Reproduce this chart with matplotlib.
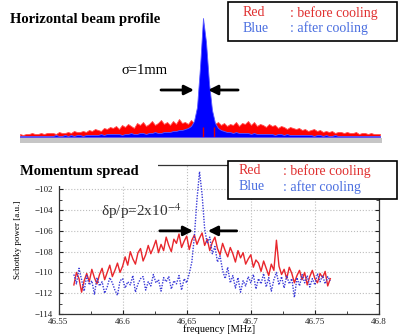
import numpy as np
import matplotlib
matplotlib.use("Agg")
import matplotlib.pyplot as plt
from matplotlib.patches import Rectangle

plt.rcParams['font.family'] = ['Liberation Serif', 'DejaVu Serif']
plt.rcParams['mathtext.fontset'] = 'stix'

W, H = 398, 334

# ---- top panel: horizontal beam profile (bins of 0.5 mm, peak at 0) ----
prof_pos = np.arange(-30.5, 30.0, 0.5)
prof_before = [3, 2, 3, 3, 4, 3, 3, 4, 3, 4, 4,
               4, 3, 5, 4, 4, 5, 4, 6, 5, 5,
               6, 5, 7, 6, 8, 7, 6, 9, 8, 10,
               9, 11, 8, 12, 10, 13, 11, 9, 14, 12,
               15, 11, 13, 16, 12, 14, 17, 13, 15, 12,
               16, 13, 18, 14, 15, 13, 17, 14, 16, 18,
               15, 17, 14, 16, 13, 15, 12, 14, 11, 13,
               12, 15, 11, 14, 13, 16, 12, 15, 11, 13,
               12, 10, 13, 11, 12, 9, 11, 10, 8, 10,
               9, 8, 9, 7, 8, 6, 7, 8, 6, 7,
               5, 6, 5, 6, 4, 5, 5, 4, 5, 4,
               4, 5, 3, 4, 4, 3, 4, 3, 3, 3]
prof_after = [1, 1, 1, 1, 1, 1, 1, 1, 1, 1, 1, 1, 2, 1, 1, 2, 1, 2, 1, 2,
              2, 1, 2, 2, 2, 2, 2, 3, 2, 3, 3,
              3, 3, 3, 2, 3, 3, 4, 3, 3, 4, 4, 3, 4, 4, 5, 4, 4, 5, 5, 5,
              6, 6, 7, 7, 8, 9, 11, 16,
              30, 70, 119, 95, 54, 27, 14, 9, 7, 6,
              5, 5, 4, 5, 4, 4, 4, 4, 3, 4, 3, 3,
              3, 3, 3, 3, 2, 3, 3, 2, 3, 2, 2, 2, 2, 2, 2, 2, 2, 1, 2, 2,
              1, 2, 1, 1, 2, 1, 1, 1, 1, 1, 1, 1, 1, 1, 1, 1, 1, 1, 1, 1]
red_marks_pos = [0.0, 1.8]
red_marks_h = [10, 10]

# ---- bottom panel: Schottky spectrum ----
freq = np.linspace(46.562, 46.762, 101)
power_before = [-111.2, -110.0, -110.6, -111.9, -110.8, -110.1, -110.9, -109.7, -110.5, -111.1,
                -110.2, -109.6, -110.7, -110.0, -109.3, -110.4, -109.8, -109.1, -110.0, -109.4,
                -108.5, -109.3, -108.0, -108.7, -109.2, -108.1, -107.7, -108.9, -108.3, -107.4,
                -108.2, -107.6, -106.9, -108.1, -107.3, -107.9, -106.6, -107.4, -108.0, -106.8,
                -107.2, -106.3, -107.6, -107.0, -106.5, -107.8, -106.9, -106.4, -107.3, -106.7,
                -106.2, -107.4, -106.8, -107.9, -107.1, -106.6, -107.7, -108.3, -107.2, -107.9,
                -108.5, -107.6, -108.2, -109.0, -107.9, -108.6, -108.1, -109.2, -108.7, -108.3,
                -109.5, -108.8, -109.1, -109.9, -108.9, -109.6, -110.3, -109.2, -109.8, -106.9,
                -109.4, -110.2, -109.7, -110.6, -109.5, -110.1, -111.0, -110.3, -109.8, -110.7,
                -110.0, -111.2, -110.4, -109.8, -110.6, -111.0, -110.1, -110.5, -109.9, -111.3,
                -110.6]
power_after = [-110.2, -111.1, -109.6, -110.7, -111.8, -110.3, -111.2, -110.8, -112.1, -110.5,
               -111.3, -110.9, -112.0, -111.4, -110.5, -111.0, -111.7, -112.2, -110.8, -110.6,
               -111.5, -110.9, -111.2, -110.3, -111.9, -111.1, -110.6, -110.4, -111.7, -110.9,
               -111.3, -110.2, -111.0, -110.7, -111.8, -110.5, -110.9, -110.4, -111.6, -110.8,
               -111.1, -110.3, -111.7, -110.6, -111.0, -110.1, -109.0, -106.5, -103.0, -100.3,
               -102.5, -105.8, -107.2, -106.6, -108.2, -107.5, -109.0, -108.4, -109.8, -110.6,
               -109.5, -111.0, -110.3, -111.5, -110.5, -111.9, -110.8, -111.3, -110.4, -111.0,
               -110.2, -111.6, -110.6, -111.1, -110.1, -111.4, -110.5, -111.8, -110.7, -110.0,
               -111.2, -110.4, -111.5, -110.3, -111.1, -110.6, -112.4, -110.5, -111.3, -110.2,
               -111.0, -110.3, -111.4, -110.6, -111.2, -110.1, -110.9, -110.3, -111.1, -110.4,
               -110.8]
xticks = [46.55, 46.6, 46.65, 46.7, 46.75, 46.8]
xticklabels = ['46.55', '46.6', '46.65', '46.7', '46.75', '46.8']
yticks = [-114, -112, -110, -108, -106, -104, -102]


def fx(px):
    return px / W


def fy(py):
    return 1 - py / H


def arrow(ax, tip, tail):
    ax.annotate('', xy=tip, xytext=tail, annotation_clip=False,
                arrowprops=dict(arrowstyle='-|>', color='k', lw=2, mutation_scale=14,
                                shrinkA=0, shrinkB=0))


fig = plt.figure(figsize=(W / 100, H / 100), dpi=100)

# top panel
ax1 = fig.add_axes([fx(18.5), fy(137), 363 / W, 122 / H])
ax1.fill_between(prof_pos, 0, prof_before, color='#ff0000', lw=0.6, edgecolor='#ff5050')
ax1.fill_between(prof_pos, 0, prof_after, color='#0000ff', lw=0.6, edgecolor='#5a5aff')
ax1.vlines(red_marks_pos, 0, red_marks_h, color='#e00000', lw=1)
ax1.set_xlim(-30.75, 29.75)
ax1.set_ylim(0, 122)
ax1.axis('off')
arrow(ax1, (-1.5, 47), (-7.0, 47))
arrow(ax1, (0.85, 47), (5.85, 47))
fig.patches.append(Rectangle((fx(20), fy(143)), 362 / W, 5 / H, transform=fig.transFigure,
                             facecolor='#c6c6c6', edgecolor='none'))
fig.text(fx(10), fy(20), 'Horizontal beam profile', fontsize=10.5, fontweight='bold',
         va='center', ha='left')
fig.text(fx(122), fy(71), 'σ=1mm', fontsize=10.5, va='center', ha='left')

# bottom panel
ax2 = fig.add_axes([fx(58.5), fy(314), 320.5 / W, 149 / H])
ax2.plot(freq, power_before, color='#e8262c', lw=1)
ax2.plot(freq, power_after, color='#3a3ad8', lw=1, ls=(0, (1, 1)))
ax2.set_xlim(46.55, 46.8)
ax2.set_ylim(-114, -99.66)
ax2.set_xticks(xticks)
ax2.set_xticklabels(xticklabels)
ax2.set_yticks(yticks)
ax2.set_yticks(np.arange(-113, -99, 2), minor=True)
ax2.set_xticks(np.arange(46.575, 46.8, 0.05), minor=True)
ax2.tick_params(which='both', direction='in', right=True, labelsize=6.5,
                colors='#222222')
ax2.tick_params(axis='x', pad=3)
ax2.tick_params(axis='y', pad=4)
ax2.tick_params(which='major', length=3)
ax2.tick_params(which='minor', length=2)
ax2.grid(True, which='major', ls=':', color='#bdbdbd', lw=0.8)
for s in ax2.spines.values():
    s.set_color('#333333')
    s.set_linewidth(0.9)
ax2.set_xlabel('frequency [MHz]', fontsize=7.5, labelpad=-1)
ax2.set_ylabel('Schottky power [a.u.]', fontsize=6.5, labelpad=9)
arrow(ax2, (46.655, -106.0), (46.629, -106.0))
arrow(ax2, (46.6665, -106.0), (46.689, -106.0))
ax2.text(46.583, -104.1, r'δp/p=2x10$^{-4}$', fontsize=11, va='center', ha='left',
         color='#333333')

fig.patches.append(Rectangle((fx(14), fy(186)), 144 / W, 30 / H, transform=fig.transFigure,
                             facecolor='white', edgecolor='none'))
fig.text(fx(20), fy(172), 'Momentum spread', fontsize=10.5, fontweight='bold',
         va='center', ha='left')

# legend boxes
for top, bottom, y_red, y_blue, xr, xb in [(2, 41, 13, 28, 243, 290), (161, 199, 171, 187, 239, 283)]:
    fig.patches.append(Rectangle((fx(228), fy(bottom)), 169 / W, (bottom - top) / H,
                                 transform=fig.transFigure, facecolor='white',
                                 edgecolor='black', lw=1.2))
    fig.text(fx(xr), fy(y_red), 'Red', fontsize=10, color='#e03030', va='center')
    fig.text(fx(xb), fy(y_red), ': before cooling', fontsize=10, color='#e03030', va='center')
    fig.text(fx(xr), fy(y_blue), 'Blue', fontsize=10, color='#4a6ee0', va='center')
    fig.text(fx(xb), fy(y_blue), ': after cooling', fontsize=10, color='#4a6ee0', va='center')

fig.savefig('out.png', dpi=100)
